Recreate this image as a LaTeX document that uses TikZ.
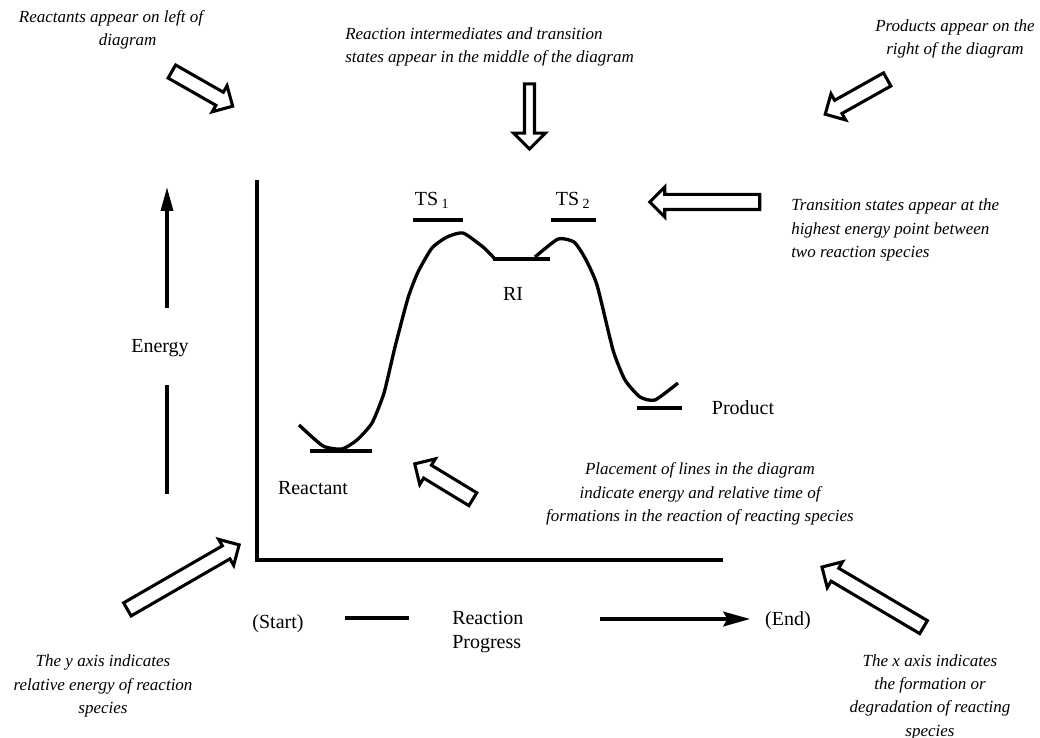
\documentclass[tikz,border=0pt]{standalone}
\usepackage{fontspec}
\setmainfont{Liberation Serif}
\usetikzlibrary{shapes.arrows,arrows.meta}

\begin{document}
\begin{tikzpicture}[x=0.75pt,y=-0.75pt,
  every node/.style={inner sep=0pt},
  lab/.style={font=\fontsize{15pt}{18pt}\selectfont},
  note/.style={font=\fontsize{12.75pt}{17.5pt}\selectfont\itshape,align=center},
  axis/.style={line width=2.5pt},
  lvl/.style={line width=2.5pt},
  curve/.style={line width=2.5pt,line join=round,smooth,tension=0.35},
  hollow/.style={single arrow,draw,line width=2.3pt,fill=white,inner xsep=0pt,
    inner ysep=4.5pt,single arrow head extend=5.6pt},
  slim/.style={hollow,inner ysep=2.6pt,single arrow head extend=8.2pt}
  ]
\useasboundingbox (0,0) rectangle (1040,738);

% axes
\coordinate (top) at (257,180);
\coordinate (origin) at (257,560);
\coordinate (right) at (723,560);
\draw[axis,line join=miter] (top) -- (origin) -- (right);

% energy label on the left
\node[lab] (energy) at (160,348) {Energy};
\coordinate (eBase) at (167,308);
\coordinate (eTip) at (167,187);
\coordinate (eLow1) at (167,385);
\coordinate (eLow2) at (167,494);
\draw[axis,-{Stealth[length=18pt,width=9pt,inset=0pt]}] (eBase) -- (eTip);
\draw[axis] (eLow1) -- (eLow2);

% reaction progress label
\node[lab] (start) at (278,624) {(Start)};
\node[lab,align=left,anchor=west] (progress) at (452,632) {Reaction\\Progress};
\node[lab] (end) at (788,621) {(End)};
\coordinate (p1) at (345,618);
\coordinate (p2) at (409,618);
\coordinate (p3) at (600,619);
\coordinate (p4) at (750,619);
\draw[axis] (p1) -- (p2);
\draw[axis,-{Stealth[length=20pt,width=11pt,inset=3pt]}] (p3) -- (p4);

% energy levels
\draw[lvl] (310,451) -- (372,451);
\draw[lvl] (413,220) -- (463,220);
\draw[lvl] (493,259) -- (550,259);
\draw[lvl] (551,220) -- (596,220);
\draw[lvl] (637,408) -- (682,408);
\node[lab] (ts1) at (432,200) {TS\,\textsubscript{1}};
\node[lab] (ts2) at (573,200) {TS\,\textsubscript{2}};
\node[lab] (ri) at (513,294) {RI};
\node[lab] (reactant) at (313,488) {Reactant};
\node[lab] (product) at (743,408) {Product};

% reaction path
\draw[curve] plot coordinates {(299,425) (323,446) (342,449) (357,440) (372,423)
  (384,393) (395,347) (408,298) (418,272) (432,248) (447,237) (463,233)
  (483,247) (495,259)};
\draw[curve] plot coordinates {(535,257) (558,239) (574,242) (585,258) (597,285)
  (613,350) (625,380) (640,397) (655,400) (678,383)};

% notes
\node[note] (nLeft) at (111,30) {Reactants appear on left of\\\hspace*{25pt}diagram};
\node[note,align=left,anchor=west] (nMid) at (345,47) {Reaction intermediates and transition\\states appear in the middle of the diagram};
\node[note] (nRight) at (955,39) {Products appear on the\\right of the diagram};
\node[note,align=left,anchor=west] (nTS) at (791,230) {Transition states appear at the\\highest energy point between\\two reaction species};
\node[note] (nPlace) at (700,494) {Placement of lines in the diagram\\indicate energy and relative time of\\formations in the reaction of reacting species};
\node[note] (nY) at (103,686) {The y axis indicates\\relative energy of reaction\\species};
\node[note] (nX) at (930,697) {The x axis indicates\\the formation or\\degradation of reacting\\species};

% hollow arrows
\node[hollow,rotate=-29.7,minimum height=52.5pt] (aLeft) at (199,87) {};
\node[slim,rotate=-90,minimum height=48.8pt] (aMid) at (529.5,114) {};
\node[hollow,rotate=-150.7,minimum height=53.3pt] (aRight) at (859.5,95) {};
\node[hollow,rotate=180,minimum height=82.5pt] (aTS) at (708.5,202) {};
\node[hollow,rotate=148.7,minimum height=51pt] (aPlace) at (447,483.5) {};
\node[hollow,rotate=30,minimum height=96.8pt] (aY) at (180,579) {};
\node[hollow,rotate=149.4,minimum height=88.5pt] (aX) at (876,599) {};
\end{tikzpicture}
\end{document}
